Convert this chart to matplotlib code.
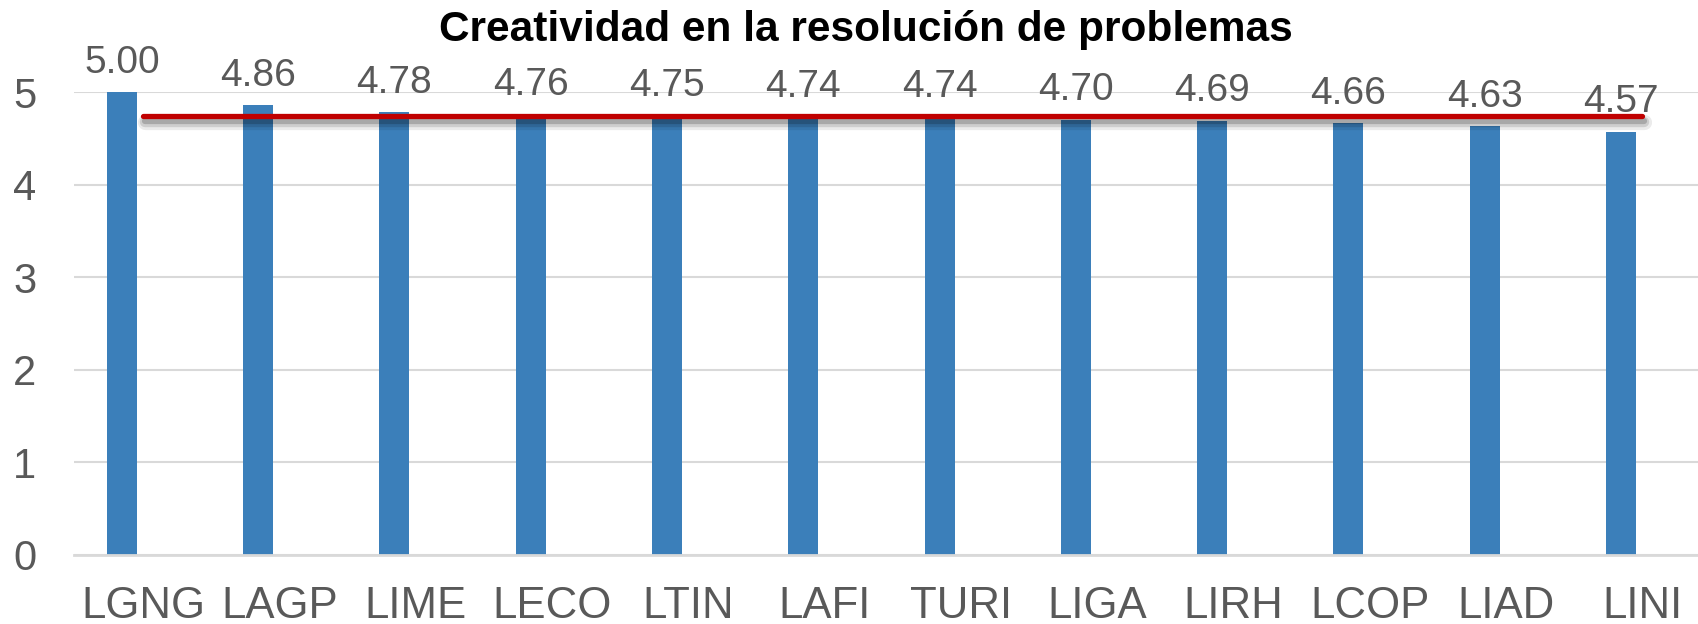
import numpy as np
import matplotlib
matplotlib.use("Agg")
import matplotlib.pyplot as plt
import matplotlib.patheffects as pe

plt.rcParams['font.family'] = ['Liberation Sans', 'DejaVu Sans']

# Data
categorias = ['LGNG', 'LAGP', 'LIME', 'LECO', 'LTIN', 'LAFI',
              'TURI', 'LIGA', 'LIRH', 'LCOP', 'LIAD', 'LINI']
valores = [5.00, 4.86, 4.78, 4.76, 4.75, 4.74, 4.74, 4.70, 4.69, 4.66, 4.63, 4.57]
promedio = [np.mean(valores)] * len(valores)
titulo = 'Creatividad en la resolución de problemas'

# Colors
c_bar = '#3B7FBA'
c_line = '#C00000'
c_text = '#595959'
c_grid = '#D9D9D9'

fig = plt.figure(figsize=(16.98, 6.24), dpi=100)
ax = fig.add_axes([74 / 1698, 69 / 624, 1 - 74 / 1698, 463 / 624])

x = np.arange(len(categorias))
off = -0.155  # bars sit left of the category centre
bars = ax.bar(x + off, valores, width=0.22, color=c_bar, zorder=2)

for xi, v in zip(x, valores):
    ax.annotate(f'{v:.2f}', (xi + off, v), xytext=(0, 14), textcoords='offset points',
                ha='center', va='baseline', fontsize=28, color=c_text,
                annotation_clip=False)

# average line with a soft shadow
shadow = [pe.SimpleLineShadow(offset=(1.5, -4), shadow_color='#000000', alpha=0.08, linewidth=11),
          pe.SimpleLineShadow(offset=(1.5, -4), shadow_color='#000000', alpha=0.12, linewidth=7.5),
          pe.SimpleLineShadow(offset=(1.5, -3.5), shadow_color='#000000', alpha=0.18, linewidth=4.5),
          pe.Normal()]
ax.plot(x, promedio, color=c_line, lw=3.8, solid_capstyle='round', zorder=4,
        path_effects=shadow)

ax.set_xlim(-0.506, 11.41)
ax.set_ylim(0, 5)
ax.set_yticks(range(6))
ax.set_xticks(x)
ax.set_xticklabels(categorias)
ax.tick_params(axis='x', length=0, pad=22, labelsize=31.5, labelcolor=c_text)
ax.tick_params(axis='y', length=0, pad=27, labelsize=30, labelcolor=c_text)
ax.grid(axis='y', color=c_grid, lw=1.5, zorder=0)
ax.set_axisbelow(True)
for s in ['top', 'right', 'left']:
    ax.spines[s].set_visible(False)
ax.spines['bottom'].set_color(c_grid)
ax.spines['bottom'].set_linewidth(2)

fig.text(866 / 1698, 1 - 30 / 624, titulo, ha='center', va='center',
         fontsize=30.5, fontweight='bold', color='black')

fig.savefig('out.png', dpi=100)
